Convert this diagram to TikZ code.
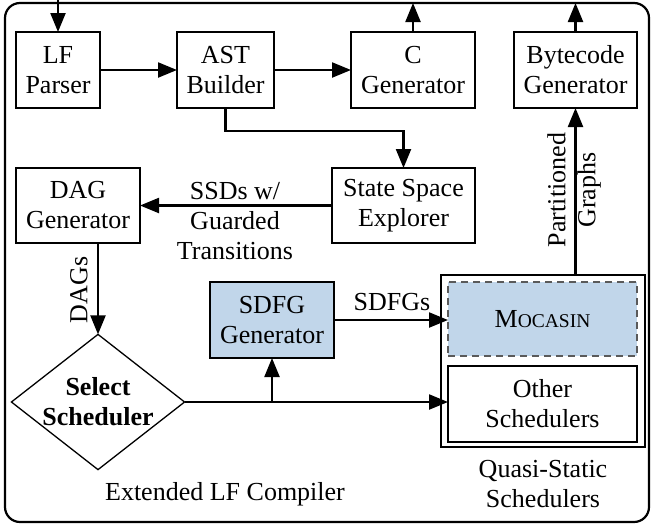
\documentclass[tikz,border=0pt]{standalone}
\usepackage{fontspec}
\setmainfont{Liberation Serif}
\usetikzlibrary{shapes.geometric,arrows.meta}
\definecolor{boxblue}{RGB}{193,214,234}
\definecolor{dashgray}{RGB}{90,90,90}
\tikzset{
  every node/.style={font=\fontsize{26}{30}\selectfont, inner sep=0pt, outer sep=0pt},
  blk/.style={draw, line width=1.3pt, align=center},
  conn/.style={line width=2.2pt, -{Triangle[length=19pt,width=15pt]}},
  lbl/.style={align=center},
}
\begin{document}
\begin{tikzpicture}[x=1pt,y=-1pt]
\useasboundingbox (0,0) rectangle (652,525);
\node[draw, line width=2.2pt, rounded corners=15pt, minimum width=644pt, minimum height=519pt] (frame) at (327,262.5) {};

\node[blk, minimum width=84pt, minimum height=76pt] (lf) at (58,70) {LF\\Parser};
\node[blk, minimum width=97pt, minimum height=76pt] (ast) at (225.5,70) {AST\\Builder};
\node[blk, minimum width=124pt, minimum height=76pt] (cg) at (413,70) {C\\Generator};
\node[blk, minimum width=123pt, minimum height=76pt] (bc) at (575.5,70) {Bytecode\\Generator};
\node[blk, minimum width=143pt, minimum height=75pt] (sse) at (403.5,205.5) {State Space\\Explorer};
\node[blk, minimum width=124pt, minimum height=75pt] (dag) at (78,205.5) {DAG\\Generator};
\node[draw, line width=1.3pt, diamond, aspect=1.28, minimum width=170pt, minimum height=133pt, align=center, font=\fontsize{26}{30}\selectfont\bfseries] (sel) at (98,402) {Select\\Scheduler};
\node[blk, fill=boxblue, minimum width=124pt, minimum height=76pt] (sdfg) at (272,320) {SDFG\\Generator};
\node[blk, minimum width=204pt, minimum height=172pt] (qs) at (543,361) {};
\node[draw=dashgray, dashed, dash pattern=on 7pt off 5pt, line width=1.4pt, fill=boxblue, minimum width=189pt, minimum height=74pt] (moc) at (542.5,319) {M{\fontsize{19.5}{20}\selectfont OCASIN}};
\node[blk, minimum width=189pt, minimum height=76pt] (oth) at (542.5,404) {Other\\Schedulers};

\coordinate (in) at (58,0);
\coordinate (cout) at (413,3);
\coordinate (bout) at (575.5,3);
\coordinate (br) at (272,402);

\draw[conn] (in) -- (lf.north);
\draw[conn] (lf.east) -- (ast.west);
\draw[conn] (ast.east) -- (cg.west);
\draw[conn] (cg.north) -- (cout);
\draw[conn] (bc.north) -- (bout);
\draw[conn] (ast.south) -- ++(0,23) -| (sse.north);
\draw[conn] (sse.west) -- (dag.east);
\draw[conn] (dag.south -| sel.north) -- (sel.north);
\draw[conn] (sel.east) -- (sel.east -| oth.west);
\draw[conn] (br) -- (sdfg.south);
\draw[conn] (sdfg.east) -- (sdfg.east -| moc.west);
\draw[conn] (qs.north -| bc.south) -- (bc.south);

\node[lbl] (l1) at (235,221) {SSDs w/\\Guarded\\Transitions};
\node[lbl, rotate=90] (l2) at (79,290) {DAGs};
\node[lbl] (l3) at (392,302) {SDFGs};
\node[lbl, rotate=90] (l4) at (574,190) {Partitioned\\Graphs};
\node[lbl] (l5) at (543,484) {Quasi-Static\\Schedulers};
\node[lbl] (l6) at (225,494) {Extended LF Compiler};
\end{tikzpicture}
\end{document}
